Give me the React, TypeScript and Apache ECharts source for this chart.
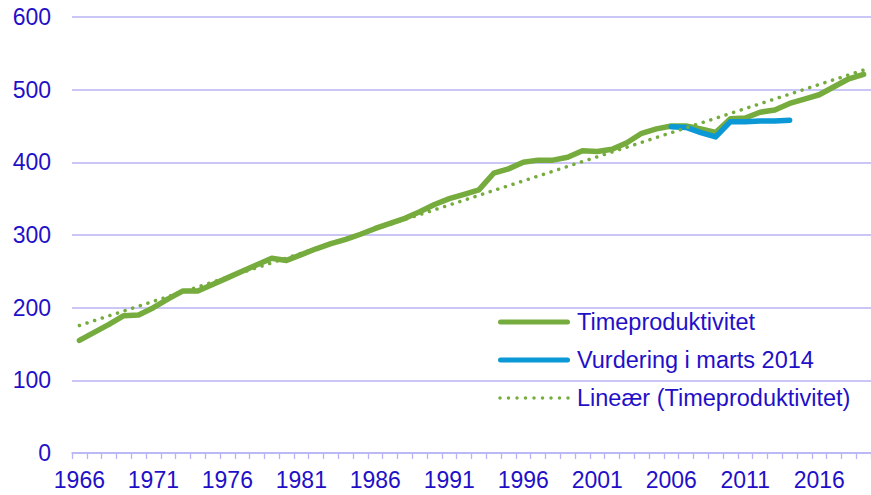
import React, { useEffect, useRef } from "react";
import * as echarts from "echarts";

const years: string[] = [
  "1966","1967","1968","1969","1970","1971","1972","1973","1974","1975",
  "1976","1977","1978","1979","1980","1981","1982","1983","1984","1985",
  "1986","1987","1988","1989","1990","1991","1992","1993","1994","1995",
  "1996","1997","1998","1999","2000","2001","2002","2003","2004","2005",
  "2006","2007","2008","2009","2010","2011","2012","2013","2014","2015",
  "2016","2017","2018","2019",
];

const timeproduktivitet: number[] = [
  155, 166, 177, 189, 190, 200, 212, 223, 223, 232,
  241, 250, 259, 268, 265, 273, 281, 288, 294, 301,
  309, 316, 323, 332, 342, 350, 356, 362, 385, 391,
  400, 403, 403, 407, 416, 415, 418, 427, 440, 446,
  450, 450, 446, 441, 460, 461, 469, 472, 481, 487,
  493, 504, 515, 521,
];

const vurderingYears: string[] = ["2006","2007","2008","2009","2010","2011","2012","2013","2014"];
const vurderingValues: number[] = [449, 448, 441, 435, 456, 456, 457, 457, 458];

const trendYears: string[] = ["1966", "2019"];
const trendValues: number[] = [175.5, 527];

const yTicks: number[] = [0, 100, 200, 300, 400, 500, 600];

const seriesNames = ["Timeproduktivitet", "Vurdering i marts 2014", "Lineær (Timeproduktivitet)"];

const TEXT = "#1F10C8";
const GRID = "#B9B5F5";
const GREEN = "#76AC3E";
const BLUE = "#0A98D6";
const FONT = "Liberation Sans, Arial, sans-serif";

// legend icon shapes (72 x 6 box)
const solidIcon = "path://M2.5,0.5 L69.5,0.5 A2.5,2.5 0 0,1 69.5,5.5 L2.5,5.5 A2.5,2.5 0 0,1 2.5,0.5 Z";
function dottedIcon(): string {
  const r = 1.75;
  let d = "path://M0,0 L0.01,0 L0,0.01 Z M72,6 L71.99,6 L72,5.99 Z";
  for (let i = 0; i < 9; i++) {
    const cx = 2 + i * 8.5;
    d += ` M${cx - r},3 A${r},${r} 0 1,0 ${cx + r},3 A${r},${r} 0 1,0 ${cx - r},3 Z`;
  }
  return d;
}

export default function App() {
  const ref = useRef<HTMLDivElement>(null);
  useEffect(() => {
    if (!ref.current) return;
    const chart = echarts.init(ref.current, undefined, { renderer: "svg" });
    chart.setOption({
      animation: false,
      textStyle: { fontFamily: FONT },
      grid: { left: 72, right: -9, top: 17, bottom: 42, containLabel: false },
      legend: {
        orient: "vertical",
        left: 498,
        top: 310,
        padding: 0,
        itemWidth: 72,
        itemHeight: 6,
        itemGap: 14,
        data: [
          { name: seriesNames[0], icon: solidIcon, itemStyle: { color: GREEN } },
          { name: seriesNames[1], icon: solidIcon, itemStyle: { color: BLUE } },
          { name: seriesNames[2], icon: dottedIcon(), itemStyle: { color: GREEN } },
        ],
        textStyle: { fontSize: 23.5, color: TEXT, fontFamily: FONT, padding: [0, 0, 0, 2] },
      },
      xAxis: {
        type: "category",
        data: years,
        boundaryGap: true,
        axisLine: { show: true, lineStyle: { color: GRID, width: 1.5 } },
        axisTick: { show: true, interval: 0, length: 6, lineStyle: { color: GRID, width: 1.3 } },
        axisLabel: { interval: 4, fontSize: 23, color: TEXT, fontFamily: FONT, margin: 15 },
      },
      yAxis: {
        type: "value",
        min: yTicks[0],
        max: yTicks[yTicks.length - 1],
        interval: yTicks[1] - yTicks[0],
        axisLine: { show: false },
        axisTick: { show: false },
        axisLabel: { fontSize: 23, color: TEXT, fontFamily: FONT, margin: 21 },
        splitLine: { lineStyle: { color: GRID, width: 1.5 } },
      },
      series: [
        {
          name: seriesNames[0],
          type: "line",
          data: timeproduktivitet,
          symbol: "none",
          lineStyle: { color: GREEN, width: 5.5, cap: "round", join: "round" },
          itemStyle: { color: GREEN },
          z: 2,
        },
        {
          name: seriesNames[1],
          type: "line",
          data: vurderingYears.map((y, i) => [y, vurderingValues[i]]),
          symbol: "none",
          lineStyle: { color: BLUE, width: 5.5, cap: "round", join: "round" },
          itemStyle: { color: BLUE },
          z: 3,
        },
        {
          name: seriesNames[2],
          type: "line",
          data: trendYears.map((y, i) => [y, trendValues[i]]),
          symbol: "none",
          lineStyle: { color: GREEN, width: 3.5, type: [0.1, 7.9], cap: "round" },
          itemStyle: { color: GREEN },
          z: 4,
        },
      ],
    });
    return () => chart.dispose();
  }, []);
  return (
    <div
      ref={ref}
      style={{ position: "absolute", left: 0, top: 0, width: 871, height: 495 }}
    />
  );
}
